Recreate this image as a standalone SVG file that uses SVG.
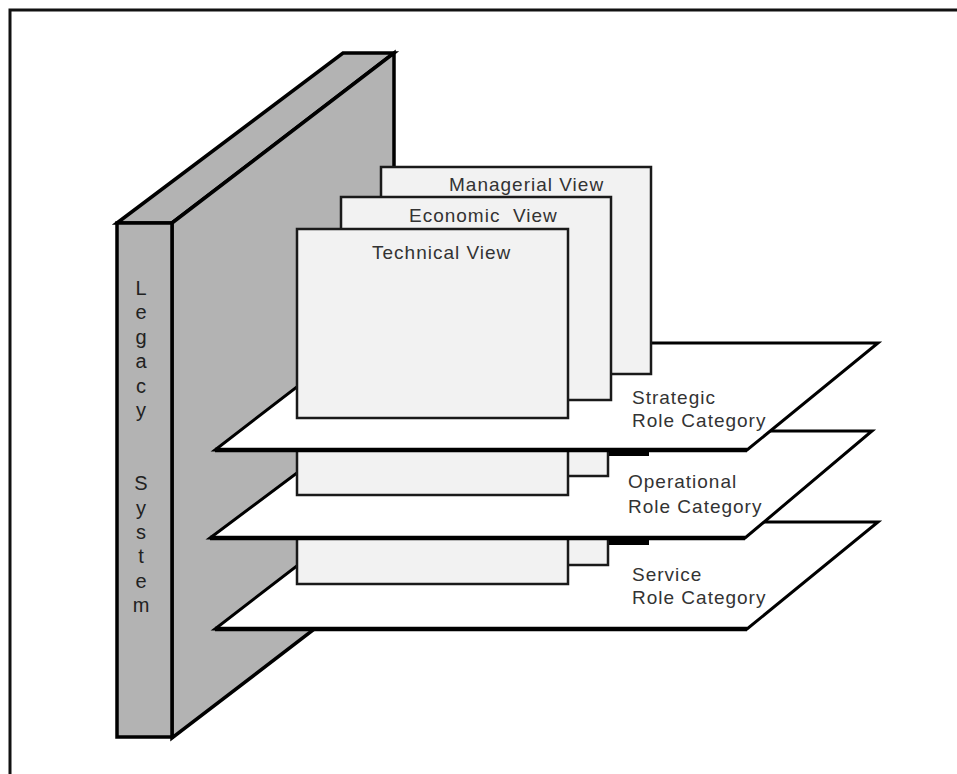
<svg xmlns="http://www.w3.org/2000/svg" width="957" height="774" viewBox="0 0 957 774">
<style>
.leg{fill:#b3b3b3;stroke:#000;stroke-width:3.5;stroke-linejoin:miter}
.plane{fill:#fff;stroke:#000;stroke-width:3;stroke-linejoin:miter}
.pbase{stroke:#000;stroke-width:4.5}
.box{fill:#f2f2f2;stroke:#1a1a1a;stroke-width:2.5}
.bar{fill:#000}
.t{font-family:"Liberation Sans",Arial,sans-serif;font-size:19px;letter-spacing:1px;fill:#333}
.lt{font-family:"Liberation Sans",Arial,sans-serif;font-size:20px;fill:#222;text-anchor:middle}
</style>
<rect width="957" height="774" fill="#fff"/>
<path d="M10,774 V10 H957" fill="none" stroke="#111" stroke-width="3"/>

<g id="legacy-system">
  <polygon class="leg" points="117,223 343,53 394,53 172,223"/>
  <polygon class="leg" points="172,223 394,53 394,568 172,738"/>
  <rect class="leg" x="117" y="223" width="55" height="514"/>
  <text class="lt" x="141" y="295">L</text>
  <text class="lt" x="141" y="319">e</text>
  <text class="lt" x="141" y="344">g</text>
  <text class="lt" x="141" y="368">a</text>
  <text class="lt" x="141" y="393">c</text>
  <text class="lt" x="141" y="417">y</text>
  <text class="lt" x="141" y="490">S</text>
  <text class="lt" x="141" y="515">y</text>
  <text class="lt" x="141" y="539">s</text>
  <text class="lt" x="141" y="563">t</text>
  <text class="lt" x="141" y="588">e</text>
  <text class="lt" x="141" y="612">m</text>
</g>

<g id="service-role-category">
  <polygon class="plane" points="215,629 747,629 878,522 354,522"/>
  <line class="pbase" x1="215" y1="629" x2="747" y2="629"/>
  <text class="t" x="632" y="581">Service</text>
  <text class="t" x="632" y="604">Role Category</text>
</g>
<g id="service-views">
  <rect class="box" x="341" y="530" width="267" height="35"/>
  <rect class="box" x="297" y="530" width="271" height="54"/>
  <rect class="bar" x="609" y="530" width="40" height="15"/>
</g>

<g id="operational-role-category">
  <polygon class="plane" points="210,538 745,538 872,431 353,431"/>
  <line class="pbase" x1="210" y1="538" x2="745" y2="538"/>
  <text class="t" x="628" y="488">Operational</text>
  <text class="t" x="628" y="513">Role Category</text>
</g>
<g id="operational-views">
  <rect class="box" x="341" y="440" width="267" height="36"/>
  <rect class="box" x="297" y="440" width="271" height="55"/>
  <rect class="bar" x="609" y="440" width="40" height="16"/>
</g>

<g id="strategic-role-category">
  <polygon class="plane" points="215,450 747,450 878,343 354,343"/>
  <line class="pbase" x1="215" y1="450" x2="747" y2="450"/>
  <text class="t" x="632" y="404">Strategic</text>
  <text class="t" x="632" y="427">Role Category</text>
</g>

<g id="managerial-view">
  <rect class="box" x="381" y="167" width="270" height="207"/>
  <text class="t" x="449" y="191">Managerial View</text>
</g>
<g id="economic-view">
  <rect class="box" x="341" y="197" width="270" height="203"/>
  <text class="t" x="409" y="222" xml:space="preserve">Economic  View</text>
</g>
<g id="technical-view">
  <rect class="box" x="297" y="229" width="271" height="189"/>
  <text class="t" x="372" y="259">Technical View</text>
</g>

<g id="connectors"></g>
</svg>
